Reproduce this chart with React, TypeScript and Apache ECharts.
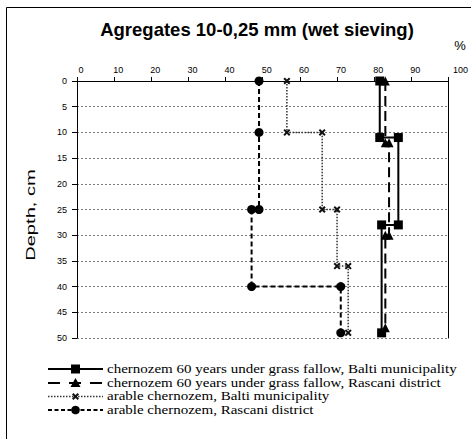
import React, { useEffect, useRef } from "react";
import * as echarts from "echarts";

const seriesNames = [
  "chernozem 60 years under grass fallow, Balti municipality",
  "chernozem 60 years under grass fallow, Rascani district",
  "arable chernozem, Balti municipality",
  "arable chernozem, Rascani district",
];

// [percent, depth cm]
const grassBalti: [number, number][] = [
  [81.5, 0], [81.5, 11], [86.5, 11], [86.5, 28], [82, 28], [82, 49],
];
const grassRascani: [number, number][] = [
  [83, 0], [83, 12], [84, 12], [84, 30], [83, 30], [83, 48],
];
const arableBalti: [number, number][] = [
  [56.5, 0], [56.5, 10], [66, 10], [66, 25], [70, 25], [70, 36], [73, 36], [73, 49],
];
const arableRascani: [number, number][] = [
  [49, 0], [49, 10], [49, 25], [47, 25], [47, 40], [71, 40], [71, 49],
];

const xTicks = [0, 10, 20, 30, 40, 50, 60, 70, 80, 90, 100];
const depthTicks = [0, 5, 10, 15, 20, 25, 30, 35, 40, 45, 50];

const crossPath =
  "path://M2,0 L5,3 L8,0 L10,2 L7,5 L10,8 L8,10 L5,7 L2,10 L0,8 L3,5 L0,2 Z";

function legendMarker(kind: string, cx: number, cy: number): any {
  if (kind === "rect")
    return { type: "rect", shape: { x: cx - 4.5, y: cy - 4.5, width: 9, height: 9 }, style: { fill: "#000" } };
  if (kind === "triangle")
    return {
      type: "polygon",
      shape: { points: [[cx, cy - 5], [cx + 5, cy + 4], [cx - 5, cy + 4]] },
      style: { fill: "#000" },
    };
  if (kind === "cross") {
    const s = 0.7;
    const pts = [
      [2, 0], [5, 3], [8, 0], [10, 2], [7, 5], [10, 8], [8, 10], [5, 7], [2, 10], [0, 8], [3, 5], [0, 2],
    ].map(([x, y]) => [cx + (x - 5) * s, cy + (y - 5) * s]);
    return { type: "polygon", shape: { points: pts }, style: { fill: "#111" } };
  }
  return { type: "circle", shape: { cx, cy, r: 4.3 }, style: { fill: "#000" } };
}

export default function App() {
  const ref = useRef<HTMLDivElement>(null);
  useEffect(() => {
    if (!ref.current) return;
    const chart = echarts.init(ref.current, undefined, { renderer: "svg" });
    const sans = "Liberation Sans, Arial, sans-serif";
    const serif = "Liberation Serif, Times New Roman, serif";

    const legendRows = [
      { kind: "rect", dash: null as any, width: 2, color: "#000" },
      { kind: "triangle", dash: [12, 9], width: 2, color: "#000" },
      { kind: "cross", dash: [1.5, 1.5], width: 1.3, color: "#333" },
      { kind: "circle", dash: [4, 2.5], width: 2, color: "#000" },
    ];
    const legendY = [369, 383, 396.5, 410];
    const legendGraphics: any[] = [];
    legendRows.forEach((r, i) => {
      const y = legendY[i];
      legendGraphics.push({
        type: "line",
        shape: { x1: 48, y1: y, x2: 103, y2: y },
        style: { stroke: r.color, lineWidth: r.width, lineDash: r.dash || undefined },
      });
      legendGraphics.push(legendMarker(r.kind, 75.5, y));
      legendGraphics.push({
        type: "text",
        x: 107,
        y: y,
        scaleX: 1.25,
        style: {
          text: seriesNames[i],
          fontFamily: serif,
          fontSize: 12,
          fill: "#000",
          textAlign: "left",
          textVerticalAlign: "middle",
        },
      });
    });

    chart.setOption({
      animation: false,
      backgroundColor: "#ffffff",
      textStyle: { fontFamily: sans },
      graphic: [
        {
          type: "rect",
          silent: true,
          shape: { x: 6.5, y: 7.5, width: 480, height: 460 },
          style: { fill: "none", stroke: "#000", lineWidth: 1 },
        },
        {
          type: "text",
          x: 257,
          y: 29,
          style: {
            text: "Agregates 10-0,25 mm (wet sieving)",
            fontFamily: sans,
            fontSize: 18.5,
            fontWeight: "bold",
            fill: "#000",
            textAlign: "center",
            textVerticalAlign: "middle",
          },
        },
        {
          type: "text",
          x: 460,
          y: 45,
          style: {
            text: "%",
            fontFamily: sans,
            fontSize: 13,
            fill: "#000",
            textAlign: "center",
            textVerticalAlign: "middle",
          },
        },
        {
          type: "text",
          x: 31,
          y: 215,
          rotation: Math.PI / 2,
          scaleX: 1.55,
          style: {
            text: "Depth, cm",
            fontFamily: sans,
            fontSize: 13,
            fill: "#000",
            textAlign: "center",
            textVerticalAlign: "middle",
          },
        },
        ...legendGraphics,
      ],
      grid: { left: 77, right: 22, top: 81, bottom: 101, containLabel: false },
      xAxis: {
        type: "value",
        position: "top",
        min: 0,
        max: 100,
        interval: 10,
        axisLine: { show: true, lineStyle: { color: "#000", width: 1 } },
        axisTick: { show: true, length: 4, lineStyle: { color: "#000" } },
        axisLabel: {
          fontSize: 9,
          color: "#000",
          margin: 7,
          formatter: (v: number) =>
            xTicks.includes(v) ? (v === 100 ? `{b|${v}}` : `{a|${v}}`) : "",
          rich: {
            a: { fontSize: 9, color: "#000", fontFamily: sans, padding: [0, 0, 0, 8] },
            b: { fontSize: 9, color: "#000", fontFamily: sans, padding: [0, 0, 0, 24] },
          },
        },
        splitLine: { show: false },
      },
      yAxis: [
        {
          type: "value",
          inverse: true,
          min: 0,
          max: 50,
          interval: 5,
          axisLine: { show: true, lineStyle: { color: "#000", width: 1 } },
          axisTick: { show: true, length: 5, lineStyle: { color: "#000" } },
          axisLabel: {
            fontSize: 9,
            color: "#000",
            margin: 10,
            formatter: (v: number) => (depthTicks.includes(v) ? String(v) : ""),
          },
          splitLine: {
            show: true,
            lineStyle: { color: "#7a7a7a", type: [2, 2], width: 1 },
          },
        },
        {
          type: "value",
          inverse: true,
          min: 0,
          max: 50,
          interval: 5,
          position: "right",
          axisLine: { show: true, lineStyle: { color: "#000", width: 1 } },
          axisTick: { show: false },
          axisLabel: { show: false },
          splitLine: { show: false },
        },
      ],
      series: [
        {
          name: seriesNames[0],
          type: "line",
          data: grassBalti,
          symbol: "rect",
          symbolSize: 9,
          itemStyle: { color: "#000" },
          lineStyle: { color: "#000", width: 2, type: "solid" },
        },
        {
          name: seriesNames[1],
          type: "line",
          data: grassRascani,
          symbol: "triangle",
          symbolSize: 9,
          itemStyle: { color: "#000" },
          lineStyle: { color: "#000", width: 2, type: [10, 5] },
        },
        {
          name: seriesNames[2],
          type: "line",
          data: arableBalti,
          symbol: crossPath,
          symbolSize: 7,
          itemStyle: { color: "#111" },
          lineStyle: { color: "#333", width: 1.5, type: [1.5, 1.5] },
        },
        {
          name: seriesNames[3],
          type: "line",
          data: arableRascani,
          symbol: "circle",
          symbolSize: 9,
          itemStyle: { color: "#000" },
          lineStyle: { color: "#000", width: 2, type: [5, 3] },
        },
      ],
    });
    return () => chart.dispose();
  }, []);
  return <div ref={ref} style={{ width: 471, height: 439, position: "absolute", left: 0, top: 0 }} />;
}
